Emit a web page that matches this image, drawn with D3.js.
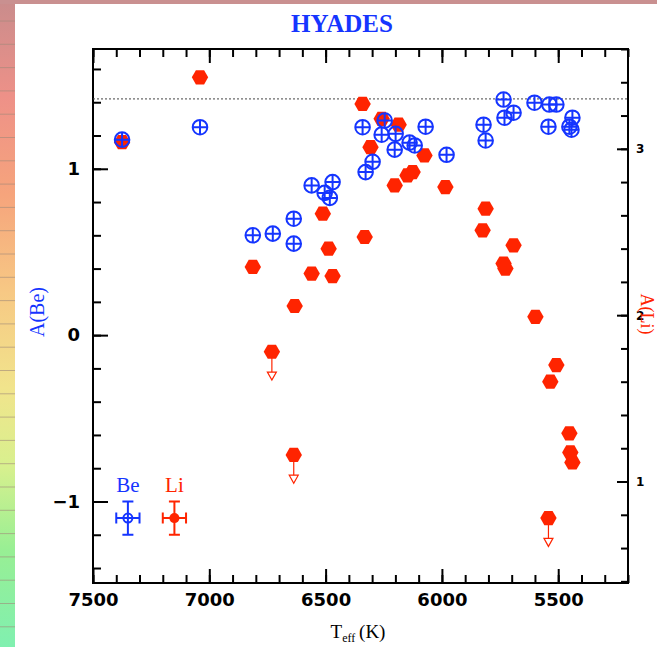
<!DOCTYPE html>
<meta charset="utf-8">
<style>
    body { margin: 0; background: #fff; }
    svg { display: block; }
    .num { font-family: "DejaVu Sans", sans-serif; font-weight: bold; }
    .serif { font-family: "Liberation Serif", "DejaVu Serif", serif; }
</style>
<script src="https://cdn.jsdelivr.net/npm/d3@7"></script>
<body>
<svg></svg>
</body>
<script>

    // A(Be) of the Hyades stars: [Teff, A(Be)]
    var beStars = [
        [7375, 1.175], [7040, 1.25], [6813, 0.60], [6727, 0.61], [6637, 0.70], [6637, 0.55],
        [6560, 0.90], [6504, 0.855], [6470, 0.92], [6482, 0.825],
        [6341, 1.25], [6246, 1.29], [6259, 1.205], [6199, 1.21], [6203, 1.115], [6139, 1.157],
        [6117, 1.14], [6070, 1.253], [5980, 1.084], [6298, 1.042], [6328, 0.98],
        [5735, 1.416], [5821, 1.265], [5812, 1.17], [5731, 1.307], [5692, 1.337], [5602, 1.397],
        [5538, 1.386], [5508, 1.386], [5542, 1.253], [5439, 1.307], [5452, 1.253], [5443, 1.235]
    ];
    // A(Li) detections: [Teff, A(Li)]
    var liStars = [
        [7375, 3.04], [7040, 3.43], [6341, 3.27], [6259, 3.18], [6186, 3.145], [6307, 3.01],
        [6075, 2.96], [6126, 2.86], [6148, 2.84], [6203, 2.78], [5985, 2.77], [6512, 2.61],
        [6332, 2.47], [6813, 2.29], [6487, 2.40], [6560, 2.25], [6470, 2.235], [6633, 2.055],
        [5812, 2.64], [5825, 2.51], [5692, 2.42], [5735, 2.31], [5727, 2.28], [5598, 1.99],
        [5508, 1.70], [5534, 1.60], [5452, 1.29], [5448, 1.175], [5439, 1.115]
    ];
    // A(Li) upper limits
    var liLimits = [[6731, 1.78], [6637, 1.16], [5542, 0.78]];

    var xMajor = [7500, 7000, 6500, 6000, 5500];
    var beMajor = [-1, 0, 1];
    var liMajor = [1, 2, 3];
    var meteoriticBe = 1.42;
    var legendBe = [7350, -1.1];
    var legendLi = [7150, -1.1];
    var errT = 50, errA = 0.1;

    var blue = '#1535ff', red = '#ff2400';
    var W = 657, H = 647;
    var L = 93, R = 628, T = 49, B = 583;

    var svg = d3.select('svg').attr('width', W).attr('height', H);

    // page decoration: coloured strip on the left and top
    var defs = svg.append('defs');
    var grad = defs.append('linearGradient').attr('id', 'strip')
            .attr('x1', 0).attr('y1', 0).attr('x2', 0).attr('y2', 1);
    [[0, '#c98c8c'], [0.15, '#ee9188'], [0.3, '#f6a47c'], [0.45, '#f7c884'],
        [0.6, '#f1e48c'], [0.72, '#d8f08e'], [0.85, '#98ef94'], [1, '#80f0b0']]
            .forEach(function (s) {
                grad.append('stop').attr('offset', s[0]).attr('stop-color', s[1]);
            });
    svg.append('rect').attr('x', 0).attr('y', 0).attr('width', 15).attr('height', H)
            .attr('fill', 'url(#strip)');
    svg.append('rect').attr('x', 0).attr('y', 0).attr('width', W).attr('height', 4)
            .attr('fill', '#c99090');
    svg.append('g').selectAll('line').data(d3.range(21, H, 23.3)).join('line')
            .attr('x1', 0).attr('x2', 15).attr('y1', function (d) { return d; })
            .attr('y2', function (d) { return d; })
            .attr('stroke', '#a08a7a').attr('stroke-width', 1).attr('opacity', 0.6);

    var x = d3.scaleLinear().domain([7500, 5200]).range([L, R]);
    var y = d3.scaleLinear().domain([-1.49, 1.72]).range([B, T]);
    var yLi = d3.scaleLinear().domain([-1.49 + 1.88, 1.72 + 1.88]).range([B, T]);

    function round1(v) { return Math.round(v * 10) / 10; }
    var xMinor = d3.range(5200, 7501, 100);
    var beMinor = d3.range(-1.4, 1.61, 0.2).map(round1);
    var liMinor = d3.range(0.4, 3.61, 0.2).map(round1);

    function clean(g) {
        g.select('.domain').remove();
        g.selectAll('line').attr('stroke', '#000').attr('stroke-width', 2);
    }

    svg.append('g').attr('transform', 'translate(0,' + B + ')')
            .call(d3.axisBottom(x).tickValues(xMinor).tickSize(-8).tickFormat(''))
            .call(clean);
    svg.append('g').attr('class', 'num').attr('transform', 'translate(0,' + B + ')')
            .call(d3.axisBottom(x).tickValues(xMajor).tickSize(-14).tickPadding(10)
                    .tickFormat(d3.format('d')))
            .call(clean)
            .selectAll('text').attr('font-size', 18).attr('fill', '#000');

    svg.append('g').attr('transform', 'translate(0,' + T + ')')
            .call(d3.axisTop(x).tickValues(xMinor).tickSize(-8).tickFormat(''))
            .call(clean);
    svg.append('g').attr('transform', 'translate(0,' + T + ')')
            .call(d3.axisTop(x).tickValues(xMajor).tickSize(-14).tickFormat(''))
            .call(clean);

    svg.append('g').attr('transform', 'translate(' + L + ',0)')
            .call(d3.axisLeft(y).tickValues(beMinor).tickSize(-8).tickFormat(''))
            .call(clean);
    svg.append('g').attr('class', 'num').attr('transform', 'translate(' + L + ',0)')
            .call(d3.axisLeft(y).tickValues(beMajor).tickSize(-15).tickPadding(13)
                    .tickFormat(d3.format('d')))
            .call(clean)
            .selectAll('text').attr('font-size', 18).attr('fill', '#000');

    svg.append('g').attr('transform', 'translate(' + R + ',0)')
            .call(d3.axisRight(yLi).tickValues(liMinor).tickSize(-7).tickFormat(''))
            .call(clean);
    svg.append('g').attr('class', 'num').attr('transform', 'translate(' + R + ',0)')
            .call(d3.axisRight(yLi).tickValues(liMajor).tickSize(-11).tickPadding(8)
                    .tickFormat(d3.format('d')))
            .call(clean)
            .selectAll('text').attr('font-size', 12).attr('fill', '#000');

    // frame
    svg.append('rect').attr('x', L).attr('y', T).attr('width', R - L).attr('height', B - T)
            .attr('fill', 'none').attr('stroke', '#000').attr('stroke-width', 2);

    // meteoritic Be
    svg.append('line').attr('x1', L).attr('x2', R)
            .attr('y1', y(meteoriticBe)).attr('y2', y(meteoriticBe))
            .attr('stroke', '#444').attr('stroke-width', 1).attr('stroke-dasharray', '2,2');

    function hexPath(r) {
        var pts = d3.range(6).map(function (i) {
            var a = i * Math.PI / 3;
            return [r * Math.cos(a), r * Math.sin(a)];
        });
        return 'M' + pts.join('L') + 'Z';
    }

    // Li upper limits arrows
    var arrows = svg.append('g').attr('stroke', red).attr('fill', 'none').attr('stroke-width', 1.2);
    liLimits.forEach(function (d) {
        var x0 = x(d[0]), y0 = yLi(d[1]), y1 = yLi(d[1] - 0.17);
        arrows.append('line').attr('x1', x0).attr('x2', x0).attr('y1', y0).attr('y2', y1 - 8);
        arrows.append('path')
                .attr('d', 'M' + (x0 - 4.5) + ',' + (y1 - 8) + 'L' + (x0 + 4.5) + ',' + (y1 - 8) +
                        'L' + x0 + ',' + y1 + 'Z');
    });

    svg.append('g').selectAll('path').data(liStars.concat(liLimits)).join('path')
            .attr('transform', function (d) { return 'translate(' + x(d[0]) + ',' + yLi(d[1]) + ')'; })
            .attr('d', hexPath(8.2))
            .attr('fill', red);

    var be = svg.append('g').selectAll('g').data(beStars).join('g')
            .attr('transform', function (d) { return 'translate(' + x(d[0]) + ',' + y(d[1]) + ')'; })
            .attr('stroke', blue).attr('stroke-width', 2).attr('fill', 'none');
    be.append('circle').attr('r', 7.3);
    be.append('path').attr('d', 'M-7.3,0H7.3M0,-7.3V7.3');

    // legend with typical error bars
    function errBars(g, d, col) {
        var cx = x(d[0]), cy = y(d[1]);
        var x1 = x(d[0] + errT), x2 = x(d[0] - errT), y1 = y(d[1] + errA), y2 = y(d[1] - errA);
        var p = 'M' + x1 + ',' + cy + 'H' + x2 +
                'M' + x1 + ',' + (cy - 5.5) + 'V' + (cy + 5.5) +
                'M' + x2 + ',' + (cy - 5.5) + 'V' + (cy + 5.5) +
                'M' + cx + ',' + y1 + 'V' + y2 +
                'M' + (cx - 5.5) + ',' + y1 + 'H' + (cx + 5.5) +
                'M' + (cx - 5.5) + ',' + y2 + 'H' + (cx + 5.5);
        g.append('path').attr('d', p).attr('stroke', col).attr('stroke-width', 2).attr('fill', 'none');
    }
    var leg = svg.append('g');
    errBars(leg, legendBe, blue);
    leg.append('circle').attr('cx', x(legendBe[0])).attr('cy', y(legendBe[1])).attr('r', 4.5)
            .attr('fill', 'none').attr('stroke', blue).attr('stroke-width', 2);
    errBars(leg, legendLi, red);
    leg.append('circle').attr('cx', x(legendLi[0])).attr('cy', y(legendLi[1])).attr('r', 5)
            .attr('fill', red);
    leg.append('text').attr('class', 'serif').attr('x', x(legendBe[0])).attr('y', y(legendBe[1]) - 26)
            .attr('text-anchor', 'middle').attr('font-size', 21).attr('fill', blue).text('Be');
    leg.append('text').attr('class', 'serif').attr('x', x(legendLi[0])).attr('y', y(legendLi[1]) - 26)
            .attr('text-anchor', 'middle').attr('font-size', 21).attr('fill', red).text('Li');

    // titles
    svg.append('text').attr('class', 'serif').attr('x', 342).attr('y', 32)
            .attr('text-anchor', 'middle').attr('font-size', 25).attr('font-weight', 'bold')
            .attr('fill', blue).text('HYADES');
    svg.append('text').attr('class', 'serif')
            .attr('transform', 'translate(44,312) rotate(-90)')
            .attr('text-anchor', 'middle').attr('font-size', 20).attr('fill', blue).text('A(Be)');
    svg.append('text').attr('class', 'serif')
            .attr('transform', 'translate(641,314) rotate(90)')
            .attr('text-anchor', 'middle').attr('font-size', 18).attr('fill', red).text('A(Li)');
    var xl = svg.append('text').attr('class', 'serif').attr('x', 358).attr('y', 638)
            .attr('text-anchor', 'middle').attr('font-size', 19).attr('fill', '#000');
    xl.append('tspan').text('T');
    xl.append('tspan').attr('font-size', 12).attr('dy', 4).text('eff');
    xl.append('tspan').attr('dy', -4).text('\u2009(K)');

</script>
</html>
